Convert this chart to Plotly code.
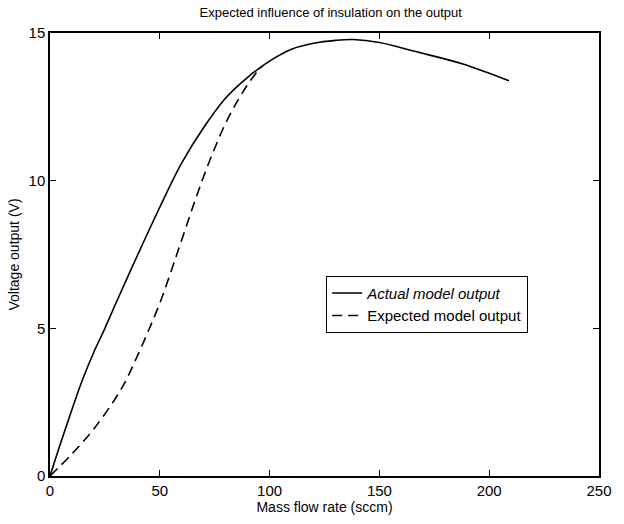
import plotly.graph_objects as go

# Mass flow rate (sccm) and voltage output (V) for each model
actual_flow = [0, 5, 10, 15, 20, 25, 30, 40, 50, 60, 70, 80, 90, 100, 110, 120, 130, 138, 150, 166, 188, 209]
actual_volt = [0, 1.15, 2.25, 3.3, 4.2, 5.0, 5.85, 7.5, 9.1, 10.6, 11.8, 12.8, 13.5, 14.05, 14.45, 14.65, 14.75, 14.78, 14.68, 14.38, 13.95, 13.38]

expected_flow = [0, 10, 20, 30, 35, 40, 45, 50, 55, 60, 65, 70, 75, 80, 85, 90, 95, 97]
expected_volt = [0, 0.75, 1.6, 2.65, 3.3, 4.1, 4.95, 5.85, 6.9, 8.0, 9.1, 10.15, 11.1, 11.95, 12.65, 13.25, 13.75, 13.9]

x_ticks = [0, 50, 100, 150, 200, 250]
y_ticks = [0, 5, 10, 15]

FONT = "Liberation Sans Narrow, Liberation Sans, Arial, sans-serif"

fig = go.Figure()
fig.add_trace(go.Scatter(
    x=actual_flow, y=actual_volt, mode="lines", line_shape="spline",
    name="<i>Actual model output</i>",
    line=dict(color="black", width=1.6),
))
fig.add_trace(go.Scatter(
    x=expected_flow, y=expected_volt, mode="lines", line_shape="spline",
    name="Expected model output",
    line=dict(color="black", width=1.6, dash="10px,6px"),
))

axis_common = dict(
    showline=True, linecolor="black", linewidth=1.5, mirror="ticks",
    ticks="inside", ticklen=6, tickcolor="black", showgrid=False, zeroline=False,
    tickfont=dict(family=FONT, size=15, color="black"),
)

fig.update_layout(
    width=624, height=524,
    margin=dict(l=50, r=13, t=33, b=42),
    paper_bgcolor="white", plot_bgcolor="white",
    font=dict(family=FONT, size=14, color="black"),
    title=dict(text="Expected influence of insulation on the output",
               x=0.53, xanchor="center", y=0.977, yanchor="middle",
               font=dict(family=FONT, size=13)),
    xaxis=dict(range=[0, 250], tickvals=x_ticks,
               title=dict(text="Mass flow rate (sccm)", standoff=3,
                          font=dict(family=FONT, size=14)),
               **axis_common),
    yaxis=dict(range=[0, 15], tickvals=y_ticks,
               title=dict(text="Voltage output (V)", standoff=6,
                          font=dict(family=FONT, size=14)),
               **axis_common),
    legend=dict(x=0.503, y=0.452, xanchor="left", yanchor="top",
                bordercolor="black", borderwidth=1, bgcolor="white",
                font=dict(family=FONT, size=15), tracegroupgap=0,
                itemwidth=30),
    showlegend=True,
)

fig.write_html("out.html")
